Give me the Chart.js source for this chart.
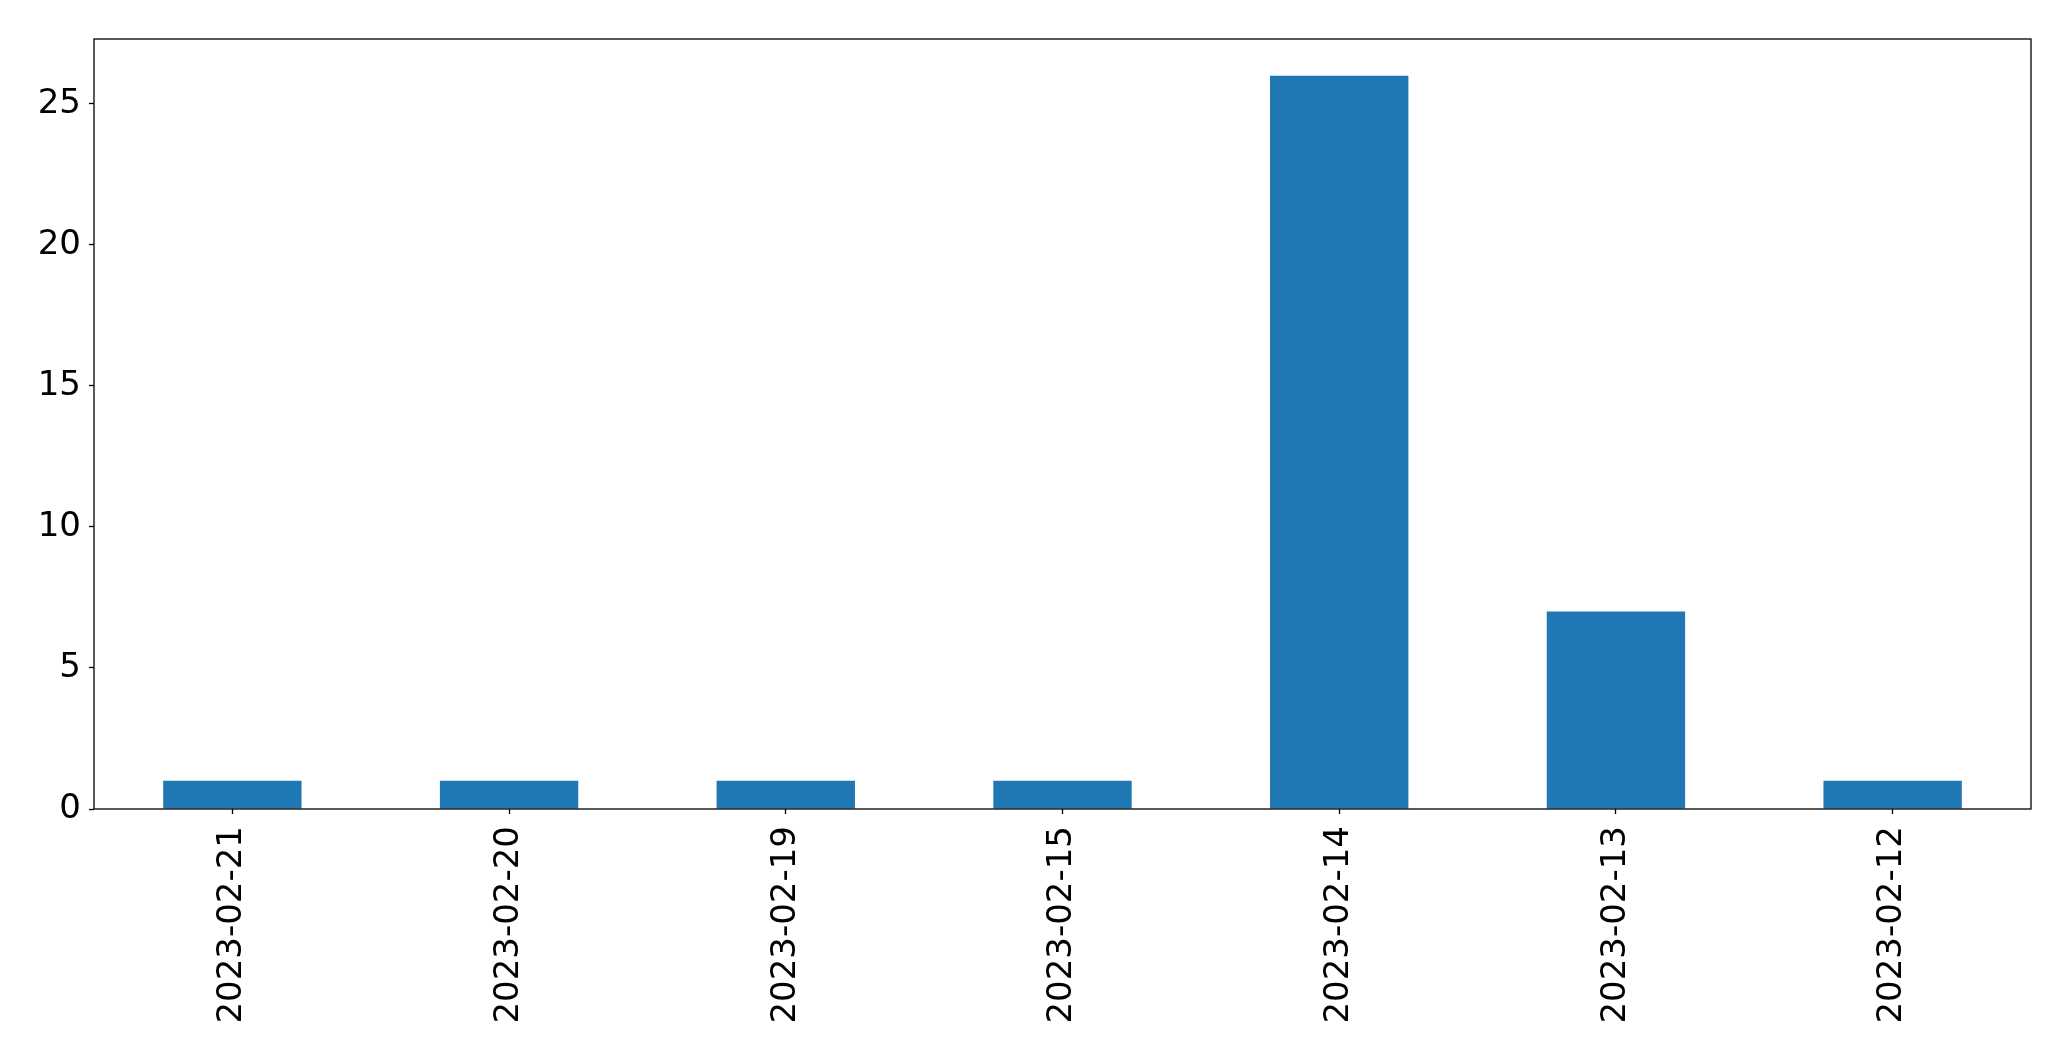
<!DOCTYPE html>
<html>
<head>
<meta charset="utf-8">
<script src="https://cdn.jsdelivr.net/npm/chart.js@4/dist/chart.umd.min.js"></script>
<style>
  html, body { margin: 0; padding: 0; background: #fff; }
  #wrap { width: 2071px; height: 1061px; }
</style>
</head>
<body>
<div id="wrap"><canvas id="myChart" width="2071" height="1061"></canvas></div>
<script>
var ngay = ['2023-02-21', '2023-02-20', '2023-02-19', '2023-02-15', '2023-02-14', '2023-02-13', '2023-02-12'];
var soLuong = [1, 1, 1, 1, 26, 7, 1];
var mocY = [0, 5, 10, 15, 20, 25];

// khung quanh vung ve
var khung = {
    id: 'khung',
    afterDraw: function(chart) {
        var a = chart.chartArea;
        var ctx = chart.ctx;
        ctx.save();
        ctx.strokeStyle = '#000';
        ctx.lineWidth = 1.3;
        ctx.strokeRect(a.left, a.top, a.right - a.left, a.bottom - a.top);
        ctx.restore();
    }
};

var font = { family: 'DejaVu Sans', size: 34 };

var config = {
    type: 'bar',
    data: {
        labels: ngay,
        datasets: [{
            data: soLuong,
            backgroundColor: '#1f77b4',
            categoryPercentage: 1,
            barPercentage: 0.5
        }]
    },
    options: {
        responsive: false,
        animation: false,
        layout: { padding: { top: 39, right: 40, left: 0, bottom: 0 } },
        plugins: {
            legend: { display: false },
            tooltip: { enabled: false }
        },
        scales: {
            x: {
                grid: { offset: false, drawOnChartArea: false, tickLength: 5, color: '#000', tickWidth: 1.3 },
                border: { display: false },
                ticks: { font: font, color: '#000', minRotation: 90, maxRotation: 90, padding: 12, autoSkip: false },
                afterFit: function(axis) { axis.height = 252; }
            },
            y: {
                min: 0,
                max: 27.3,
                grid: { drawOnChartArea: false, tickLength: 5, color: '#000', tickWidth: 1.3 },
                border: { display: false },
                ticks: { font: font, color: '#000', padding: 8 },
                afterBuildTicks: function(axis) {
                    axis.ticks = mocY.map(function(v) { return { value: v }; });
                },
                afterFit: function(axis) { axis.width = 94; }
            }
        }
    },
    plugins: [khung]
};

var ctx = document.getElementById('myChart').getContext('2d');
var myChart = new Chart(ctx, config);
</script>
</body>
</html>
